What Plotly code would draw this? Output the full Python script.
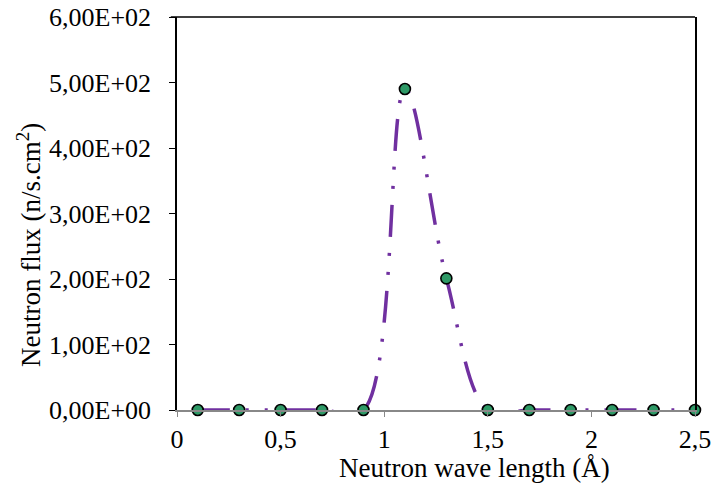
import plotly.graph_objects as go

wavelength = [0.1, 0.3, 0.5, 0.7, 0.9, 1.1, 1.3, 1.5, 1.7, 1.9, 2.1, 2.3, 2.5]
flux = [0, 0, 0, 0, 0, 490, 201, 0, 0, 0, 0, 0, 0]

x_tickvals = [0, 0.5, 1, 1.5, 2, 2.5]
x_ticktext = ["0", "0,5", "1", "1,5", "2", "2,5"]
y_tickvals = [0, 100, 200, 300, 400, 500, 600]
y_ticktext = ["0,00E+00", "1,00E+02", "2,00E+02", "3,00E+02", "4,00E+02", "5,00E+02", "6,00E+02"]

FONT = "Liberation Serif"

fig = go.Figure()
fig.add_trace(go.Scatter(
    x=wavelength, y=flux,
    mode="lines+markers",
    line=dict(color="#7030A0", width=3.5, shape="spline", smoothing=1,
              dash="32px,16px,3px,16px,3px,16px"),
    marker=dict(size=11, color="#2E9966", line=dict(color="black", width=1.6)),
    cliponaxis=False,
    showlegend=False,
))

fig.update_layout(
    width=712, height=491,
    margin=dict(l=177, r=17, t=17, b=81),
    paper_bgcolor="white", plot_bgcolor="white",
    font=dict(family=FONT, color="black", size=26),
    xaxis=dict(range=[0, 2.5], tickvals=x_tickvals, ticktext=x_ticktext,
               automargin=False,
               showgrid=False, zeroline=False, showline=True, linecolor="#888888",
               linewidth=1.5, ticks="outside", tickcolor="#888888", ticklen=5,
               tickfont=dict(family=FONT, size=26)),
    yaxis=dict(range=[0, 600], tickvals=y_tickvals, ticktext=y_ticktext,
               automargin=False,
               showgrid=False, zeroline=False, showline=True, linecolor="black",
               linewidth=1.5, mirror=True, ticks="outside", tickcolor="black",
               ticklen=6, ticklabelstandoff=13,
               tickfont=dict(family=FONT, size=26)),
    shapes=[dict(type="line", xref="paper", yref="paper", x0=-0.012, x1=1, y0=1, y1=1,
                 line=dict(color="black", width=1.5))],
    annotations=[
        dict(text="Neutron wave length (Å)", xref="paper", yref="paper",
             x=(474 - 177) / 518, y=-(468 - 410) / 393, showarrow=False,
             xanchor="center", yanchor="middle", font=dict(family=FONT, size=27)),
        dict(text="Neutron flux (n/s.cm<sup>2</sup>)", xref="paper", yref="paper",
             x=-(177 - 29) / 518, y=(410 - 245) / 393, showarrow=False, textangle=-90,
             xanchor="center", yanchor="middle", font=dict(family=FONT, size=27)),
    ],
)

fig.write_html("out.html", config={"displayModeBar": False},
               post_script="document.body.style.margin='0';document.body.style.overflow='hidden';")
